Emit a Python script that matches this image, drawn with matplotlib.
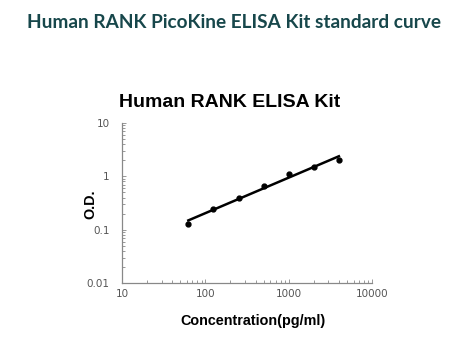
import numpy as np
import matplotlib
matplotlib.use("Agg")
import matplotlib.pyplot as plt
from matplotlib.ticker import LogLocator, NullFormatter, FixedLocator, FixedFormatter

conc = [62.5, 125, 250, 500, 1000, 2000, 4000]
od = [0.13, 0.24, 0.39, 0.65, 1.12, 1.5, 2.0]

xticks = [10, 100, 1000, 10000]
xlabels = ["10", "100", "1000", "10000"]
yticks = [0.01, 0.1, 1, 10]
ylabels = ["0.01", "0.1", "1", "10"]

# log-log linear fit of the standards
k, b = np.polyfit(np.log10(conc), np.log10(od), 1)
fx = np.array([conc[0], conc[-1]])
fy = 10 ** (k * np.log10(fx) + b)

fig = plt.figure(figsize=(4.72, 3.51), dpi=100)
ax = fig.add_axes([0.2585, 0.1937, 0.5297, 0.4559])

ax.plot(fx, fy, color="black", linewidth=1.8)
ax.plot(conc, od, "o", color="black", markersize=3.5)

ax.set_xscale("log")
ax.set_yscale("log")
ax.set_xlim(10, 10000)
ax.set_ylim(0.01, 10)

ax.xaxis.set_major_locator(FixedLocator(xticks))
ax.xaxis.set_major_formatter(FixedFormatter(xlabels))
ax.yaxis.set_major_locator(FixedLocator(yticks))
ax.yaxis.set_major_formatter(FixedFormatter(ylabels))
ax.xaxis.set_minor_locator(LogLocator(base=10, subs=np.arange(2, 10)))
ax.yaxis.set_minor_locator(LogLocator(base=10, subs=np.arange(2, 10)))
ax.xaxis.set_minor_formatter(NullFormatter())
ax.yaxis.set_minor_formatter(NullFormatter())

for s in ["top", "right"]:
    ax.spines[s].set_visible(False)
for s in ["left", "bottom"]:
    ax.spines[s].set_color("#888888")
    ax.spines[s].set_linewidth(0.9)

ax.tick_params(which="both", direction="in", color="#888888", labelcolor="#555555",
               labelsize=7.5, width=0.6)
ax.tick_params(which="major", length=3)
ax.tick_params(which="minor", length=2.5)
ax.tick_params(axis="x", pad=4)
ax.tick_params(axis="y", pad=9)

fig.text(230 / 472, 1 - 103 / 351, "Human RANK ELISA Kit", ha="center", va="center",
         fontsize=14, fontweight="bold", family="Liberation Sans")
fig.text(253 / 472, 1 - 321 / 351, "Concentration(pg/ml)", ha="center", va="center",
         fontsize=10.4, fontweight="bold", family="Liberation Sans")
fig.text(90 / 472, 1 - 204 / 351, "O.D.", ha="center", va="center", rotation=90,
         fontsize=10.4, fontweight="bold", family="Liberation Sans")

fig.text(234 / 472, 1 - 23 / 351, "Human RANK PicoKine ELISA Kit standard curve",
         ha="center", va="center", fontsize=13.7, fontweight="bold", family="Lato",
         color="#17474b")

fig.savefig("out.png", dpi=100)
